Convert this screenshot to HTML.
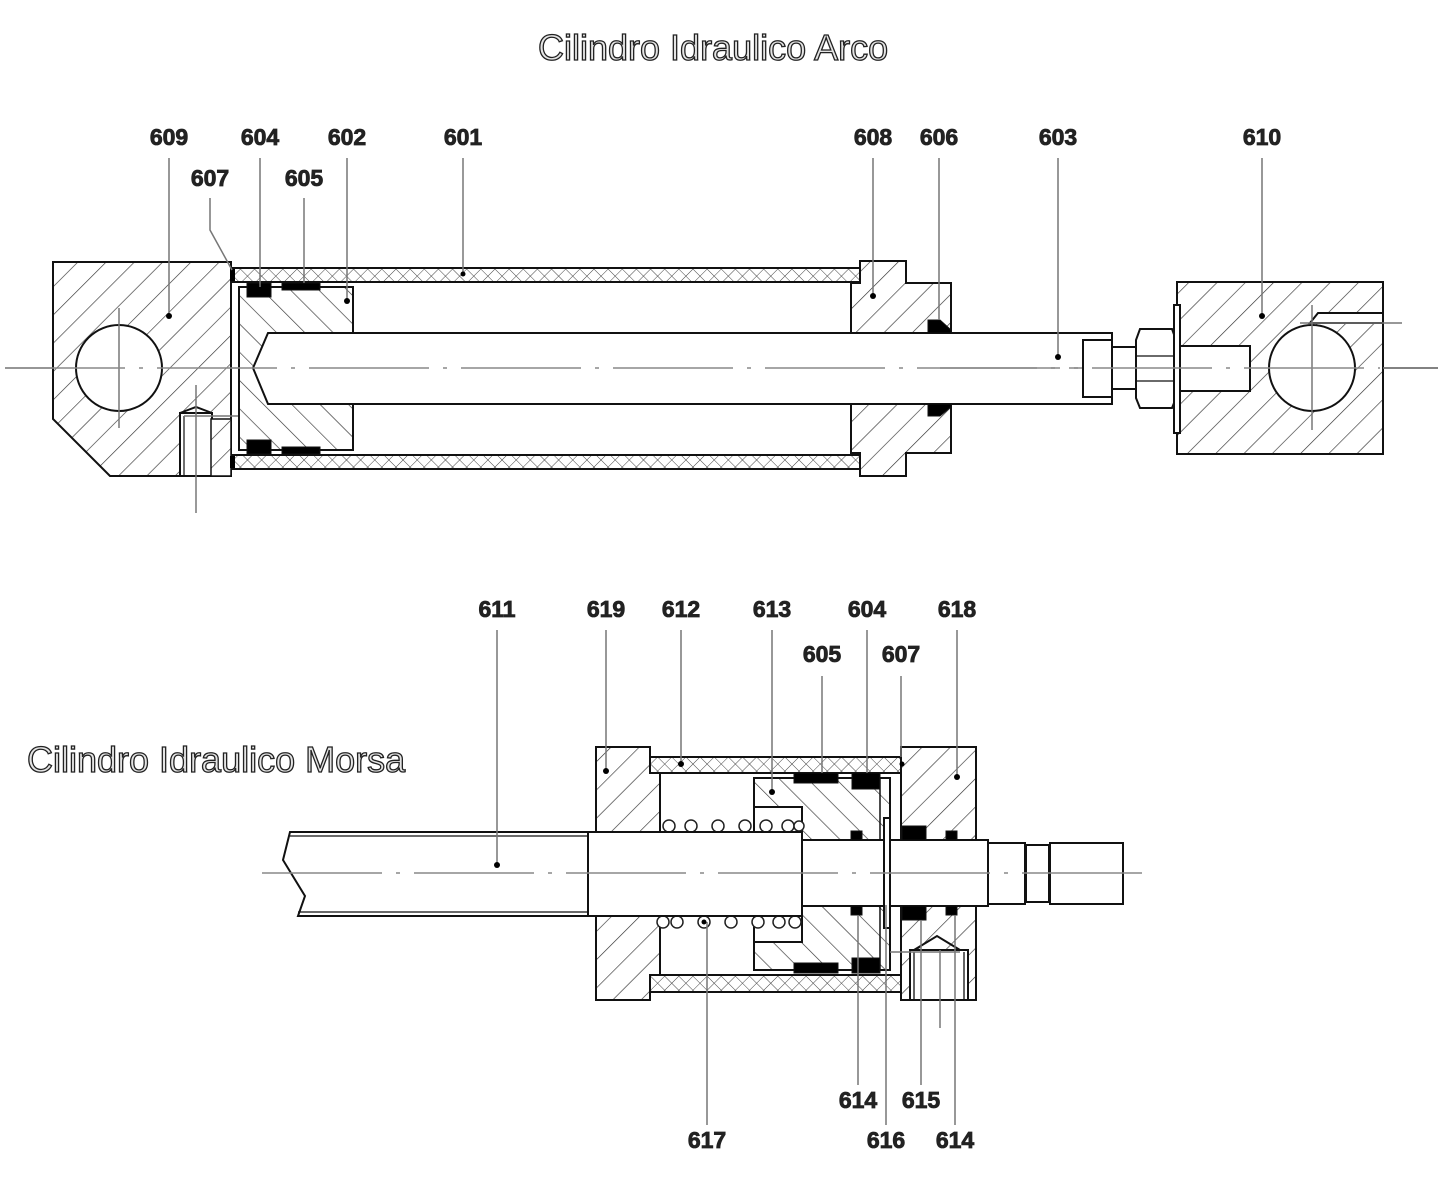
<!DOCTYPE html>
<html><head><meta charset="utf-8"><style>
html,body{margin:0;padding:0;background:#fff;}
svg{display:block;}
.t{font-family:"Liberation Sans",Arial,sans-serif;font-weight:bold;font-size:23px;fill:#222;stroke:#222;stroke-width:0.8;text-anchor:middle;}
.h{font-family:"Liberation Sans",Arial,sans-serif;font-size:36px;fill:#e4e4e4;stroke:#222;stroke-width:1.3;}
.o{fill:none;stroke:#111;stroke-width:2;}
.w{fill:#fff;stroke:#111;stroke-width:2;}
.l{stroke:#777;stroke-width:1.5;fill:none;}
.c{stroke:#888;stroke-width:1.5;fill:none;stroke-dasharray:120 14 4 14;}
.b{fill:#000;stroke:#111;stroke-width:1;}
</style></head><body>
<svg width="1442" height="1181" viewBox="0 0 1442 1181" xmlns="http://www.w3.org/2000/svg">
<defs>
<pattern id="hf" patternUnits="userSpaceOnUse" width="20" height="20" patternTransform="rotate(45)"><rect width="20" height="20" fill="#fff"/><line x1="0" y1="0" x2="0" y2="20" stroke="#333" stroke-width="1.3"/></pattern>
<pattern id="hb" patternUnits="userSpaceOnUse" width="20" height="20" patternTransform="rotate(-45)"><rect width="20" height="20" fill="#fff"/><line x1="0" y1="0" x2="0" y2="20" stroke="#333" stroke-width="1.3"/></pattern>
<pattern id="x" patternUnits="userSpaceOnUse" width="10" height="10" patternTransform="rotate(45)"><rect width="10" height="10" fill="#fff"/><line x1="0" y1="0" x2="0" y2="10" stroke="#444" stroke-width="1"/><line x1="0" y1="0" x2="10" y2="0" stroke="#444" stroke-width="1"/></pattern>
</defs>

<text class="h" x="538" y="60">Cilindro Idraulico Arco</text>
<text class="h" x="27" y="772">Cilindro Idraulico Morsa</text>

<!-- ===== TOP CYLINDER ===== -->
<line class="c" x1="5" y1="368" x2="1438" y2="368"/>
<polygon points="53,262 231,262 231,476 110,476 53,419" fill="url(#hf)" stroke="#111" stroke-width="2"/>
<circle cx="119" cy="368" r="43" class="w"/>
<line class="l" x1="119" y1="308" x2="119" y2="428"/>
<rect x="180" y="413" width="32" height="63" class="w"/>
<polyline points="180,413 196,407 212,413" class="o" stroke-width="1.5"/>
<line x1="184" y1="416" x2="184" y2="476" stroke="#111" stroke-width="1.2"/>
<rect x="211" y="419" width="20" height="57" fill="url(#hf)" stroke="#111" stroke-width="1.5"/>
<line class="l" x1="196" y1="385" x2="196" y2="513"/>
<line class="l" x1="184" y1="416" x2="280" y2="416"/>
<rect x="233" y="268" width="627" height="14" fill="url(#x)" stroke="#111" stroke-width="2"/>
<rect x="233" y="455" width="627" height="14" fill="url(#x)" stroke="#111" stroke-width="2"/>
<rect x="230" y="269" width="5" height="12" fill="#000"/>
<rect x="230" y="456" width="5" height="12" fill="#000"/>
<polygon points="239,287 353,287 353,450 239,450" fill="url(#hb)" stroke="#111" stroke-width="2"/>
<rect x="247" y="283" width="24" height="14" class="b"/>
<rect x="282" y="283" width="38" height="7" class="b"/>
<rect x="247" y="440" width="24" height="14" class="b"/>
<rect x="282" y="447" width="38" height="7" class="b"/>
<polygon points="268,333 1112,333 1112,404 268,404 253,368" class="w"/>
<polygon points="851,283 860,283 860,261 906,261 906,283 951,283 951,333 851,333" fill="url(#hf)" stroke="#111" stroke-width="2"/>
<polygon points="851,404 951,404 951,453 906,453 906,476 860,476 860,453 851,453" fill="url(#hf)" stroke="#111" stroke-width="2"/>
<polygon points="928,320 940,320 951,330 951,333 928,333" class="b"/>
<polygon points="928,404 951,404 951,407 940,416 928,416" class="b"/>
<line class="c" x1="5" y1="368" x2="1438" y2="368"/>
<rect x="1083" y="340" width="29" height="57" class="w"/>
<rect x="1112" y="347" width="26" height="42" class="w"/>
<polygon points="1140,329 1172,329 1176,340 1176,398 1172,408 1140,408 1136,398 1136,340" class="w"/>
<line x1="1137" y1="356" x2="1175" y2="356" stroke="#111" stroke-width="1.3"/>
<line x1="1137" y1="381" x2="1175" y2="381" stroke="#111" stroke-width="1.3"/>
<rect x="1177" y="282" width="206" height="172" fill="url(#hf)" stroke="#111" stroke-width="2"/>
<rect x="1174" y="305" width="6" height="128" class="w"/>
<rect x="1180" y="346" width="70" height="45" class="w"/>
<line x1="1250" y1="346" x2="1250" y2="391" stroke="#111" stroke-width="1.5"/>
<polygon points="1318,313 1383,313 1383,323 1310,323" class="w" stroke-width="1.5"/>
<circle cx="1312" cy="368" r="43" class="w"/>
<line class="l" x1="1312" y1="305" x2="1312" y2="430"/>
<line class="l" x1="1300" y1="323" x2="1402" y2="323"/>
<line class="l" x1="1383" y1="368" x2="1438" y2="368"/>
<line class="c" x1="940" y1="368" x2="1380" y2="368"/>

<text class="t" x="169" y="145">609</text>
<text class="t" x="260" y="145">604</text>
<text class="t" x="347" y="145">602</text>
<text class="t" x="463" y="145">601</text>
<text class="t" x="873" y="145">608</text>
<text class="t" x="939" y="145">606</text>
<text class="t" x="1058" y="145">603</text>
<text class="t" x="1262" y="145">610</text>
<text class="t" x="210" y="186">607</text>
<text class="t" x="304" y="186">605</text>
<line class="l" x1="169" y1="158" x2="169" y2="316"/><circle cx="169" cy="316" r="3" fill="#000"/>
<line class="l" x1="260" y1="158" x2="260" y2="287"/>
<line class="l" x1="347" y1="158" x2="347" y2="301"/><circle cx="347" cy="301" r="3" fill="#000"/>
<line class="l" x1="463" y1="158" x2="463" y2="274"/><circle cx="463" cy="274" r="2.5" fill="#000"/>
<polyline class="l" points="210,198 210,230 232,270"/>
<line class="l" x1="304" y1="198" x2="304" y2="283"/>
<line class="l" x1="873" y1="158" x2="873" y2="296"/><circle cx="873" cy="296" r="3" fill="#000"/>
<line class="l" x1="939" y1="158" x2="939" y2="320"/>
<line class="l" x1="1058" y1="158" x2="1058" y2="357"/><circle cx="1058" cy="357" r="3" fill="#000"/>
<line class="l" x1="1262" y1="158" x2="1262" y2="316"/><circle cx="1262" cy="316" r="3" fill="#000"/>

<!-- ===== BOTTOM CYLINDER ===== -->
<polygon points="596,747 650,747 650,773 660,773 660,832 596,832" fill="url(#hf)" stroke="#111" stroke-width="2"/>
<polygon points="596,916 660,916 660,975 650,975 650,1000 596,1000" fill="url(#hf)" stroke="#111" stroke-width="2"/>
<rect x="650" y="757" width="251" height="16" fill="url(#x)" stroke="#111" stroke-width="2"/>
<rect x="650" y="975" width="251" height="17" fill="url(#x)" stroke="#111" stroke-width="2"/>
<rect x="754" y="778" width="136" height="192" fill="url(#hb)" stroke="#111" stroke-width="2"/>
<rect x="754" y="807" width="48" height="25" class="w"/>
<rect x="754" y="916" width="48" height="26" class="w"/>
<rect x="794" y="773" width="44" height="10" class="b"/>
<rect x="852" y="773" width="28" height="16" class="b"/>
<rect x="794" y="963" width="44" height="10" class="b"/>
<rect x="852" y="958" width="28" height="15" class="b"/>
<rect x="880" y="778" width="10" height="192" fill="none" stroke="#111" stroke-width="1.5"/>
<rect x="901" y="747" width="75" height="253" fill="url(#hf)" stroke="#111" stroke-width="2"/>
<rect x="910" y="950" width="58" height="50" class="w"/>
<polyline points="914,950 937,936 960,950" class="o" stroke-width="1.5"/>
<line x1="914" y1="952" x2="914" y2="1000" stroke="#111" stroke-width="1.3"/>
<line x1="964" y1="952" x2="964" y2="1000" stroke="#111" stroke-width="1.3"/>
<line class="l" x1="940" y1="950" x2="940" y2="1028"/>
<line class="l" x1="890" y1="952" x2="960" y2="952"/>
<g fill="#fff" stroke="#222" stroke-width="1.5">
<circle cx="669" cy="826" r="6"/><circle cx="691" cy="826" r="6"/><circle cx="718" cy="826" r="6"/><circle cx="745" cy="826" r="6"/><circle cx="766" cy="826" r="6"/><circle cx="788" cy="826" r="6"/><circle cx="799" cy="826" r="5"/>
<circle cx="663" cy="922" r="6"/><circle cx="677" cy="922" r="6"/><circle cx="704" cy="922" r="6"/><circle cx="731" cy="922" r="6"/><circle cx="758" cy="922" r="6"/><circle cx="779" cy="922" r="6"/><circle cx="795" cy="922" r="6"/>
</g>
<polygon points="290,832 588,832 588,916 298,916 305,896 283,860" class="w"/>
<line x1="290" y1="836" x2="588" y2="836" stroke="#111" stroke-width="1.2"/>
<line x1="298" y1="912" x2="588" y2="912" stroke="#111" stroke-width="1.2"/>
<rect x="588" y="832" width="214" height="84" class="w"/>
<rect x="802" y="840" width="186" height="66" class="w"/>
<rect x="884" y="818" width="6" height="110" class="w" stroke-width="1.5"/>
<rect x="988" y="843" width="37" height="61" class="w"/>
<rect x="1026" y="845" width="23" height="57" class="w"/>
<rect x="1050" y="843" width="73" height="61" class="w"/>
<rect x="851" y="831" width="11" height="9" class="b"/>
<rect x="851" y="906" width="11" height="9" class="b"/>
<rect x="946" y="831" width="11" height="9" class="b"/>
<rect x="946" y="906" width="11" height="9" class="b"/>
<rect x="902" y="826" width="24" height="14" class="b"/>
<rect x="902" y="906" width="24" height="14" class="b"/>
<line class="c" x1="262" y1="873" x2="1145" y2="873"/>

<text class="t" x="497" y="617">611</text>
<text class="t" x="606" y="617">619</text>
<text class="t" x="681" y="617">612</text>
<text class="t" x="772" y="617">613</text>
<text class="t" x="867" y="617">604</text>
<text class="t" x="957" y="617">618</text>
<text class="t" x="822" y="662">605</text>
<text class="t" x="901" y="662">607</text>
<text class="t" x="858" y="1108">614</text>
<text class="t" x="921" y="1108">615</text>
<text class="t" x="707" y="1148">617</text>
<text class="t" x="886" y="1148">616</text>
<text class="t" x="955" y="1148">614</text>
<line class="l" x1="497" y1="630" x2="497" y2="865"/><circle cx="497" cy="865" r="3" fill="#000"/>
<line class="l" x1="606" y1="630" x2="606" y2="771"/><circle cx="606" cy="771" r="3" fill="#000"/>
<line class="l" x1="681" y1="630" x2="681" y2="764"/><circle cx="681" cy="764" r="3" fill="#000"/>
<line class="l" x1="772" y1="630" x2="772" y2="792"/><circle cx="772" cy="792" r="3" fill="#000"/>
<line class="l" x1="867" y1="630" x2="867" y2="773"/>
<line class="l" x1="957" y1="630" x2="957" y2="777"/><circle cx="957" cy="777" r="3" fill="#000"/>
<line class="l" x1="822" y1="676" x2="822" y2="773"/>
<polyline class="l" points="901,676 901,757"/><circle cx="902" cy="764" r="2.5" fill="#000"/>
<line class="l" x1="707" y1="1125" x2="707" y2="922"/><circle cx="704" cy="922" r="2.5" fill="#000"/>
<line class="l" x1="886" y1="1125" x2="886" y2="905"/>
<line class="l" x1="858" y1="1085" x2="858" y2="915"/>
<line class="l" x1="921" y1="1085" x2="921" y2="920"/>
<line class="l" x1="955" y1="1125" x2="955" y2="915"/>
</svg>
</body></html>
